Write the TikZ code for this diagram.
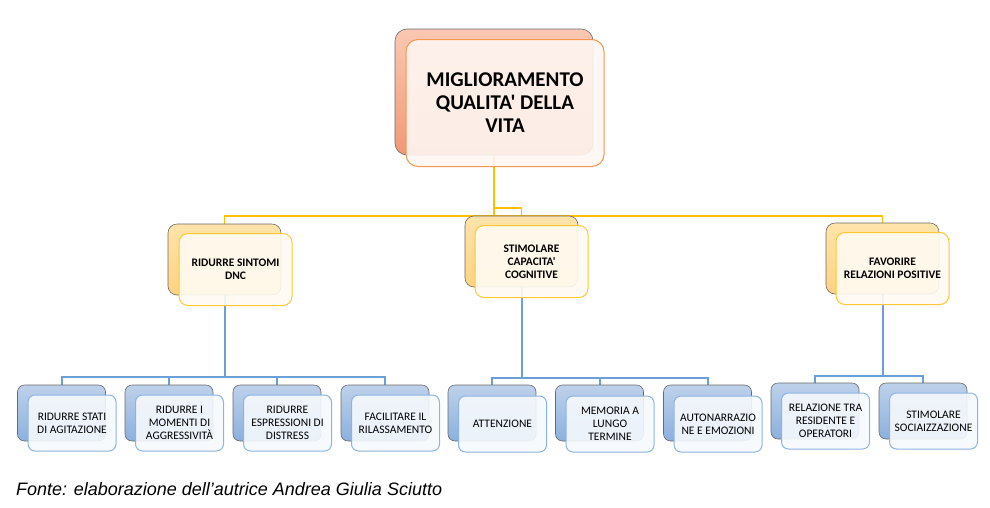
\documentclass[tikz,border=0pt]{standalone}
\usepackage{fontspec}
\setmainfont{Carlito}[Ligatures=TeXOff]
\newfontfamily\fontefont{Liberation Sans}
\usetikzlibrary{backgrounds}
\definecolor{boxgrey}{RGB}{105, 105, 105}
\definecolor{toplight}{RGB}{250, 200, 178}
\definecolor{topdark}{RGB}{240, 152, 118}
\definecolor{toporange}{RGB}{245, 150, 80}
\definecolor{topveil}{RGB}{254, 246, 242}
\definecolor{midlight}{RGB}{255, 228, 170}
\definecolor{middark}{RGB}{255, 210, 130}
\definecolor{midgold}{RGB}{255, 200, 50}
\definecolor{midveil}{RGB}{255, 251, 243}
\definecolor{botlight}{RGB}{190, 209, 234}
\definecolor{botdark}{RGB}{140, 176, 222}
\definecolor{botblue}{RGB}{140, 180, 226}
\definecolor{botveil}{RGB}{246, 249, 253}
\definecolor{linkyellow}{RGB}{255, 192, 0}
\definecolor{linkblue}{RGB}{106, 160, 218}

\tikzset{
  backbox/.style={draw=boxgrey, line width=0.6pt, inner sep=0pt},
  frontbox/.style={line width=1pt, inner sep=0pt, fill opacity=0.9, text opacity=1, align=center},
  topback/.style={backbox, rounded corners=12pt, minimum width=198pt, minimum height=126pt,
    top color=toplight, bottom color=topdark},
  topfront/.style={frontbox, draw=toporange, fill=topveil, rounded corners=12pt,
    minimum width=198pt, minimum height=127pt, font=\fontsize{21}{23}\selectfont\bfseries},
  midback/.style={backbox, rounded corners=9pt, minimum width=113pt, minimum height=71pt,
    top color=midlight, bottom color=middark},
  midfront/.style={frontbox, draw=midgold, fill=midveil, rounded corners=9pt,
    minimum width=113pt, minimum height=72pt, font=\fontsize{11.5}{13}\selectfont\bfseries},
  botback/.style={backbox, rounded corners=7pt, minimum width=88pt, minimum height=56pt,
    top color=botlight, bottom color=botdark},
  botfront/.style={frontbox, draw=botblue, fill=botveil, rounded corners=7pt,
    minimum width=88pt, minimum height=56pt, font=\fontsize{11.5}{13}\selectfont},
  ylink/.style={draw=linkyellow, line width=1.8pt},
  blink/.style={draw=linkblue, line width=2pt},
}

\begin{document}
\begin{tikzpicture}[x=1pt, y=-1pt]
    \useasboundingbox (0,0) rectangle (990,507);

    % Main goal
    \node[topback] (top) at (494,92) {};
    \node[topfront] (topf) at (505,103) {MIGLIORAMENTO\\QUALITA' DELLA\\VITA};

    % Second level
    \node[midback] (sint) at (224.5,259.5) {};
    \node[midfront] (sintf) at (235.5,269.5) {RIDURRE SINTOMI\\DNC};
    \node[midback] (cogn) at (521.5,251.5) {};
    \node[midfront] (cognf) at (531.5,261.5) {STIMOLARE\\CAPACITA'\\COGNITIVE};
    \node[midback] (rel) at (882.5,258.5) {};
    \node[midfront] (relf) at (892.5,268.5) {FAVORIRE\\RELAZIONI POSITIVE};

    % Third level, symptoms
    \node[botback] (agit) at (61.5,413) {};
    \node[botfront] (agitf) at (72,423) {RIDURRE STATI\\DI AGITAZIONE};
    \node[botback] (aggr) at (169,413) {};
    \node[botfront] (aggrf) at (179.5,423) {RIDURRE I\\MOMENTI DI\\AGGRESSIVITÀ};
    \node[botback] (distr) at (277,413) {};
    \node[botfront] (distrf) at (287.5,423) {RIDURRE\\ESPRESSIONI DI\\DISTRESS};
    \node[botback] (rilas) at (385,413) {};
    \node[botfront] (rilasf) at (395.5,423) {FACILITARE IL\\RILASSAMENTO};

    % Third level, cognition
    \node[botback] (att) at (492,413) {};
    \node[botfront] (attf) at (502.5,424) {ATTENZIONE};
    \node[botback] (mem) at (599.5,413) {};
    \node[botfront] (memf) at (610,424) {MEMORIA A\\LUNGO\\TERMINE};
    \node[botback] (auto) at (707.5,413) {};
    \node[botfront] (autof) at (718,424) {AUTONARRAZIO\\NE E EMOZIONI};

    % Third level, relations
    \node[botback] (oper) at (815,411) {};
    \node[botfront] (operf) at (825.5,421) {RELAZIONE TRA\\RESIDENTE E\\OPERATORI};
    \node[botback] (soc) at (923,411) {};
    \node[botfront] (socf) at (933.5,421) {STIMOLARE\\SOCIAIZZAZIONE};

    % Connectors
    \coordinate (ybus) at (494,216);
    \coordinate (yjog) at (494,208);
    \coordinate (bbusa) at (224.5,377);
    \coordinate (bbusb) at (521.5,378);
    \coordinate (bbusc) at (882.5,376);
    \begin{scope}[on background layer]
        \draw[ylink] (top.south) -- (ybus);
        \draw[ylink] (ybus) -| (sint.north);
        \draw[ylink] (ybus) -| (rel.north);
        \draw[ylink] (yjog) -| (cogn.north);

        \draw[blink] (sint.south) -- (bbusa);
        \draw[blink] (bbusa) -| (agit.north);
        \draw[blink] (bbusa) -| (aggr.north);
        \draw[blink] (bbusa) -| (distr.north);
        \draw[blink] (bbusa) -| (rilas.north);

        \draw[blink] (cogn.south) -- (bbusb);
        \draw[blink] (bbusb) -| (att.north);
        \draw[blink] (bbusb) -| (mem.north);
        \draw[blink] (bbusb) -| (auto.north);

        \draw[blink] (rel.south) -- (bbusc);
        \draw[blink] (bbusc) -| (oper.north);
        \draw[blink] (bbusc) -| (soc.north);
    \end{scope}

    % Source
    \node[anchor=base west, inner sep=0pt, font=\fontefont\itshape\fontsize{18}{20}\selectfont] (fonte) at (16,495)
        {Fonte: elaborazione dell’autrice Andrea Giulia Sciutto};
\end{tikzpicture}
\end{document}
